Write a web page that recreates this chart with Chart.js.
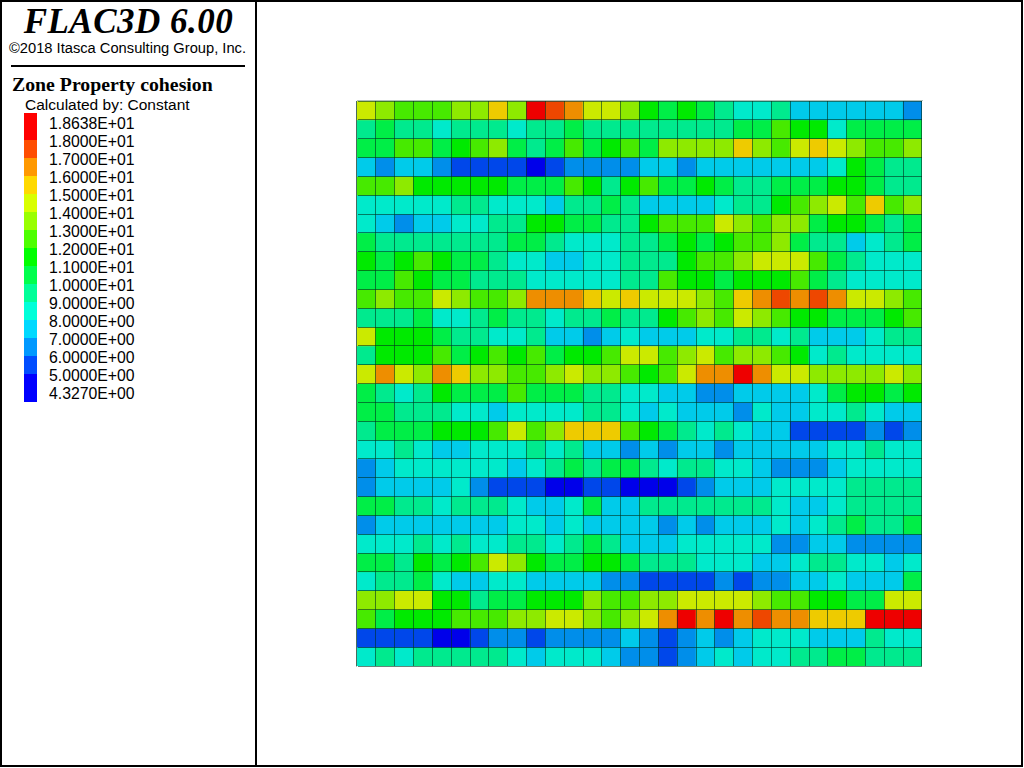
<!DOCTYPE html>
<html>
<head>
<meta charset="utf-8">
<title>FLAC3D 6.00</title>
<script src="https://cdn.jsdelivr.net/npm/chart.js@4"></script>
<style>
  html, body { margin: 0; padding: 0; background: #fff; }
  .page { position: relative; width: 1023px; height: 767px; box-sizing: border-box; border: 2px solid #000; overflow: hidden; }
  .sidebar { position: absolute; left: -2px; top: -2px; width: 257px; height: 767px; box-sizing: border-box; border-right: 2px solid #000; }
  .title { position: absolute; left: 0; width: 257px; top: 1px; text-align: center; font: italic bold 35px/42px "Liberation Serif", serif; color: #000; letter-spacing: 0.5px; }
  .copy { position: absolute; left: 0; width: 255px; top: 39px; text-align: center; font: 14.7px/18px "Liberation Sans", sans-serif; color: #000; }
  .rule { position: absolute; left: 11px; top: 65px; width: 234px; height: 2px; background: #000; }
  .name { position: absolute; left: 12px; top: 73px; font: bold 19.8px/22px "Liberation Serif", serif; color: #000; }
  .calc { position: absolute; left: 25px; top: 96px; font: 15.5px/18px "Liberation Sans", sans-serif; color: #000; }
  .band { position: absolute; left: 24px; width: 13px; }
  .lab { position: absolute; left: 49px; font: 15.8px/18px "Liberation Sans", sans-serif; color: #000; }
  #plot { position: absolute; left: 354px; top: 98px; }
</style>
</head>
<body>
<div class="page">
  <div class="sidebar">
    <div class="title">FLAC3D 6.00</div>
    <div class="copy">©2018 Itasca Consulting Group, Inc.</div>
    <div class="rule"></div>
    <div class="name">Zone Property cohesion</div>
    <div class="calc">Calculated by: Constant</div>
    <div id="legend"></div>
  </div>
  <canvas id="plot" width="567" height="567"></canvas>
</div>
<script>
// 범례 라벨 (위에서 아래로)
const tickLabels = ['1.8638E+01','1.8000E+01','1.7000E+01','1.6000E+01','1.5000E+01','1.4000E+01','1.3000E+01','1.2000E+01',
  '1.1000E+01','1.0000E+01','9.0000E+00','8.0000E+00','7.0000E+00','6.0000E+00','5.0000E+00','4.3270E+00'];
// 구간 하한값과 색상
const bandLimits = [18, 17, 16, 15, 14, 13, 12, 11, 10, 9, 8, 7, 6, 5, 4];
const legendColors = ['#ff0000','#ff4d00','#ff9900','#ffd900','#d9ff00','#99ff00','#4dff00','#00ff00','#00ff4d','#00ff99','#00ffd9','#00d9ff','#0099ff','#004dff','#0000ff'];
const cellColors = ['#ee0000','#ee4700','#ee8e00','#eecb00','#cbea00','#8eea00','#47ea00','#00ea00','#00ee47','#00ea8e','#00eacb','#00cbea','#008eea','#0047ea','#0000ea'];

// 그림에서 읽은 cohesion 값 (위 행부터)
const cohesion = [
  [14.5,13.5,12.5,12.5,12.5,13.5,13.5,15.5,13.5,18.3,17.5,16.5,14.5,14.5,13.5,11.5,10.5,11.5,10.5,9.5,8.5,8.5,9.5,7.5,7.5,7.5,7.5,7.5,7.5,6.5],
  [9.5,10.5,9.5,9.5,8.5,9.5,9.5,9.5,8.5,9.5,9.5,10.5,9.5,9.5,9.5,9.5,9.5,9.5,9.5,9.5,10.5,10.5,12.5,11.5,11.5,8.5,10.5,10.5,10.5,10.5],
  [10.5,10.5,12.5,12.5,10.5,11.5,12.5,13.5,10.5,9.5,10.5,12.5,10.5,11.5,12.5,10.5,13.5,13.5,13.5,13.5,15.5,13.5,12.5,14.5,15.5,14.5,13.5,12.5,12.5,13.5],
  [7.5,6.5,7.5,7.5,6.5,5.5,5.5,5.5,5.5,4.6,5.5,6.5,6.5,6.5,6.5,7.5,7.5,6.5,7.5,7.5,7.5,7.5,7.5,7.5,7.5,8.5,11.5,10.5,9.5,9.5],
  [12.5,12.5,13.5,11.5,11.5,11.5,11.5,11.5,10.5,10.5,10.5,12.5,11.5,9.5,11.5,12.5,10.5,10.5,11.5,10.5,9.5,9.5,10.5,10.5,10.5,11.5,11.5,10.5,9.5,9.5],
  [8.5,8.5,8.5,8.5,8.5,9.5,9.5,8.5,8.5,8.5,7.5,9.5,9.5,10.5,9.5,7.5,7.5,7.5,7.5,8.5,9.5,9.5,11.5,12.5,13.5,14.5,12.5,15.5,12.5,13.5],
  [8.5,7.5,6.5,7.5,7.5,8.5,8.5,9.5,9.5,11.5,11.5,10.5,10.5,9.5,9.5,11.5,12.5,12.5,12.5,14.5,13.5,12.5,13.5,13.5,10.5,11.5,11.5,10.5,9.5,10.5],
  [10.5,9.5,9.5,9.5,9.5,9.5,9.5,9.5,10.5,10.5,9.5,8.5,8.5,8.5,9.5,9.5,10.5,11.5,10.5,11.5,12.5,12.5,13.5,10.5,9.5,9.5,7.5,8.5,9.5,10.5],
  [11.5,10.5,11.5,12.5,11.5,10.5,10.5,9.5,8.5,8.5,7.5,7.5,8.5,8.5,9.5,9.5,9.5,11.5,12.5,12.5,13.5,14.5,14.5,14.5,12.5,10.5,9.5,8.5,8.5,8.5],
  [10.5,10.5,12.5,11.5,10.5,10.5,9.5,9.5,9.5,8.5,8.5,8.5,8.5,8.5,9.5,9.5,12.5,11.5,11.5,10.5,11.5,11.5,11.5,12.5,10.5,9.5,8.5,8.5,8.5,8.5],
  [12.5,13.5,12.5,12.5,14.5,13.5,12.5,12.5,13.5,16.5,16.5,16.5,15.5,14.5,15.5,14.5,14.5,14.5,13.5,12.5,15.5,16.5,17.5,16.5,17.5,16.5,14.5,14.5,13.5,12.5],
  [9.5,9.5,9.5,10.5,8.5,8.5,9.5,10.5,9.5,9.5,8.5,9.5,9.5,10.5,9.5,9.5,11.5,12.5,13.5,12.5,14.5,13.5,12.5,11.5,11.5,10.5,10.5,10.5,11.5,12.5],
  [14.5,11.5,11.5,11.5,10.5,9.5,9.5,8.5,8.5,9.5,7.5,7.5,6.5,7.5,8.5,7.5,7.5,7.5,8.5,8.5,9.5,9.5,8.5,9.5,7.5,7.5,7.5,8.5,9.5,9.5],
  [9.5,11.5,11.5,11.5,12.5,10.5,11.5,12.5,11.5,12.5,10.5,11.5,11.5,12.5,14.5,14.5,12.5,13.5,14.5,12.5,13.5,13.5,12.5,11.5,8.5,9.5,8.5,8.5,8.5,8.5],
  [14.5,16.5,14.5,13.5,16.5,15.5,13.5,13.5,12.5,12.5,13.5,14.5,13.5,13.5,12.5,11.5,12.5,14.5,16.5,16.5,18.3,16.5,14.5,14.5,13.5,13.5,13.5,13.5,14.5,13.5],
  [10.5,9.5,8.5,9.5,11.5,10.5,10.5,10.5,12.5,10.5,10.5,10.5,9.5,9.5,8.5,8.5,7.5,7.5,6.5,6.5,7.5,7.5,7.5,7.5,8.5,10.5,11.5,11.5,10.5,11.5],
  [10.5,10.5,9.5,9.5,9.5,8.5,8.5,7.5,8.5,8.5,8.5,8.5,9.5,9.5,8.5,7.5,8.5,7.5,7.5,7.5,6.5,8.5,7.5,7.5,8.5,8.5,9.5,8.5,7.5,7.5],
  [9.5,10.5,10.5,10.5,11.5,11.5,11.5,12.5,14.5,12.5,13.5,15.5,15.5,15.5,12.5,11.5,10.5,9.5,8.5,9.5,8.5,7.5,7.5,5.5,5.5,5.5,5.5,6.5,5.5,6.5],
  [8.5,8.5,9.5,8.5,7.5,7.5,8.5,8.5,8.5,9.5,8.5,9.5,7.5,7.5,6.5,7.5,6.5,7.5,7.5,6.5,7.5,7.5,7.5,7.5,7.5,8.5,8.5,9.5,8.5,8.5],
  [6.5,7.5,8.5,8.5,8.5,8.5,8.5,8.5,7.5,8.5,9.5,10.5,9.5,10.5,10.5,9.5,8.5,9.5,9.5,8.5,8.5,7.5,6.5,6.5,6.5,7.5,8.5,8.5,8.5,8.5],
  [6.5,7.5,7.5,7.5,7.5,8.5,6.5,5.5,5.5,5.5,4.6,4.6,5.5,5.5,4.6,4.6,4.6,5.5,6.5,7.5,7.5,7.5,8.5,8.5,8.5,8.5,9.5,9.5,9.5,9.5],
  [10.5,10.5,9.5,9.5,8.5,9.5,9.5,9.5,8.5,7.5,7.5,8.5,10.5,7.5,7.5,9.5,9.5,9.5,9.5,9.5,9.5,9.5,8.5,7.5,7.5,8.5,9.5,9.5,9.5,9.5],
  [6.5,7.5,7.5,7.5,7.5,7.5,7.5,7.5,8.5,8.5,7.5,8.5,7.5,7.5,7.5,7.5,6.5,7.5,6.5,7.5,7.5,7.5,8.5,7.5,8.5,9.5,10.5,9.5,9.5,10.5],
  [8.5,8.5,8.5,9.5,8.5,9.5,8.5,8.5,9.5,9.5,8.5,9.5,10.5,9.5,7.5,7.5,7.5,8.5,8.5,8.5,8.5,8.5,6.5,6.5,7.5,7.5,6.5,6.5,6.5,6.5],
  [10.5,10.5,9.5,11.5,10.5,11.5,12.5,14.5,13.5,11.5,10.5,10.5,11.5,11.5,10.5,9.5,9.5,9.5,8.5,8.5,8.5,7.5,7.5,8.5,9.5,9.5,8.5,8.5,7.5,8.5],
  [8.5,9.5,9.5,10.5,8.5,7.5,7.5,8.5,8.5,7.5,7.5,7.5,7.5,6.5,6.5,5.5,5.5,5.5,5.5,6.5,5.5,6.5,6.5,7.5,7.5,8.5,7.5,7.5,7.5,10.5],
  [13.5,13.5,14.5,14.5,11.5,11.5,9.5,10.5,10.5,11.5,11.5,11.5,13.5,12.5,12.5,13.5,13.5,14.5,14.5,14.5,14.5,13.5,12.5,12.5,11.5,11.5,10.5,10.5,14.5,14.5],
  [12.5,10.5,11.5,11.5,11.5,12.5,12.5,12.5,13.5,13.5,14.5,14.5,13.5,12.5,13.5,14.5,16.5,18.3,16.5,18.3,16.5,17.5,16.5,16.5,15.5,15.5,15.5,18.3,18.3,18.3],
  [5.5,5.5,5.5,5.5,4.6,4.6,5.5,6.5,6.5,5.5,6.5,6.5,6.5,6.5,7.5,6.5,5.5,6.5,7.5,6.5,7.5,8.5,8.5,8.5,7.5,7.5,7.5,9.5,8.5,8.5],
  [8.5,9.5,8.5,9.5,9.5,9.5,9.5,9.5,8.5,7.5,8.5,8.5,8.5,7.5,6.5,6.5,5.5,6.5,7.5,8.5,7.5,8.5,8.5,9.5,9.5,10.5,10.5,9.5,9.5,9.5]
];
const columns = cohesion[0].map((v, i) => i + 1);

function cellColor(v) {
  let idx = bandLimits.findIndex(low => v >= low);
  return cellColors[idx];
}

// 왼쪽 범례 만들기
const legend = document.getElementById('legend');
let bandTop = [113, 140, 158, 176, 194, 212, 230, 248, 266, 284, 302, 320, 338, 356, 374, 402];
legendColors.forEach((c, i) => {
  let d = document.createElement('div');
  d.className = 'band';
  d.style.top = bandTop[i] + 'px';
  d.style.height = (bandTop[i + 1] - bandTop[i]) + 'px';
  d.style.background = c;
  legend.appendChild(d);
});
tickLabels.forEach((t, i) => {
  let d = document.createElement('div');
  d.className = 'lab';
  d.style.top = (115 + i * 18) + 'px';
  d.textContent = t;
  legend.appendChild(d);
});

const gridColor = 'rgba(0, 50, 30, 0.6)';

let datasets = cohesion.map((row, r) => ({
  label: 'row ' + (r + 1),
  data: row.map(() => [r, r + 1]),
  backgroundColor: row.map(cellColor),
  borderWidth: 0,
  barPercentage: 1,
  categoryPercentage: 1
}));

let config = {
  type: 'bar',
  data: { labels: columns, datasets: datasets },
  options: {
    responsive: false,
    animation: false,
    events: [],
    layout: { padding: 1 },
    plugins: { legend: { display: false }, tooltip: { enabled: false } },
    scales: {
      x: {
        stacked: true,
        ticks: { display: false },
        grid: { z: 1, color: gridColor, drawTicks: false },
        border: { color: gridColor }
      },
      y: {
        min: 0,
        max: 30,
        reverse: true,
        ticks: { display: false, stepSize: 1 },
        grid: { z: 1, color: gridColor, drawTicks: false },
        border: { color: gridColor }
      }
    }
  }
};
new Chart(document.getElementById('plot'), config);
</script>
</body>
</html>
